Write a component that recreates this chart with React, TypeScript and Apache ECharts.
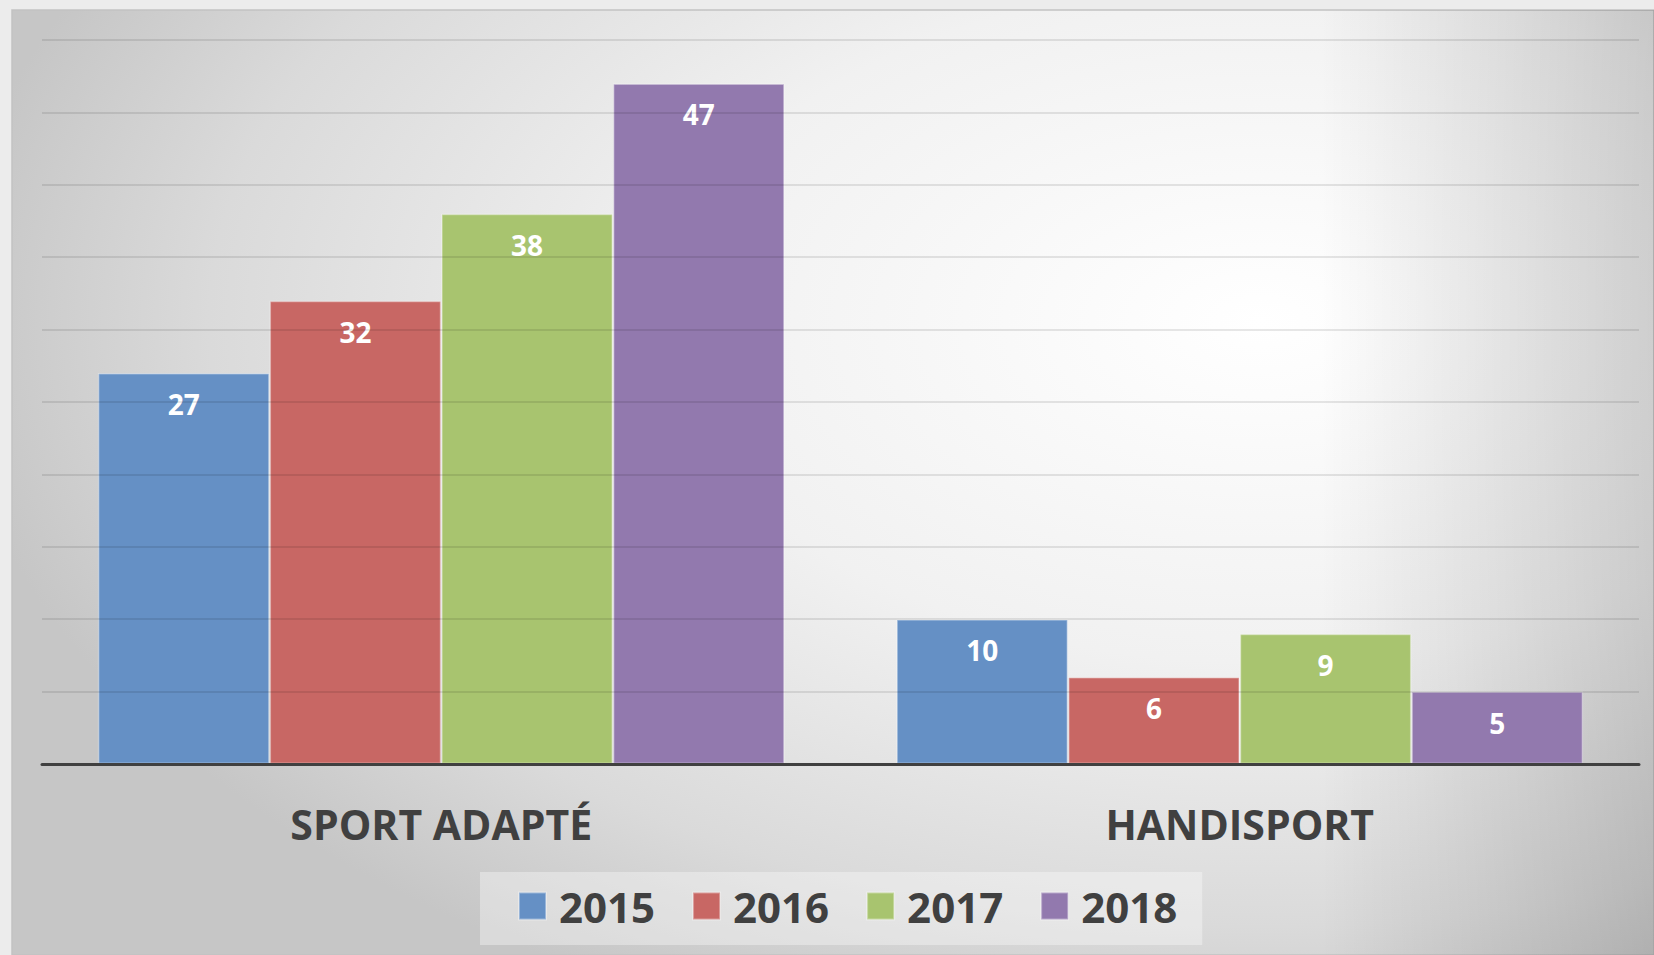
import React, { useEffect, useRef } from "react";
import * as echarts from "echarts";

const categories = ["SPORT ADAPTÉ", "HANDISPORT"];
const seriesNames = ["2015", "2016", "2017", "2018"];
const values2015 = [27, 10];
const values2016 = [32, 6];
const values2017 = [38, 9];
const values2018 = [47, 5];
const seriesValues = [values2015, values2016, values2017, values2018];
const seriesColors = ["#6590c5", "#c86764", "#a8c46f", "#9279ae"];

const FONT = "'Open Sans', 'DejaVu Sans', sans-serif";

export default function App() {
  const ref = useRef<HTMLDivElement>(null);

  useEffect(() => {
    if (!ref.current) return;
    const chart = echarts.init(ref.current, null, { renderer: "svg" });

    const series = seriesNames.map((name, i) => ({
      name,
      type: "bar",
      data: seriesValues[i],
      barGap: "0%",
      barCategoryGap: "14%",
      z: 2,
      itemStyle: {
        color: seriesColors[i],
        borderColor: "rgba(255,255,255,0.35)",
        borderWidth: 1.5,
      },
      label: {
        show: true,
        position: "insideTop",
        distance: 17,
        color: "#ffffff",
        fontFamily: FONT,
        fontWeight: "bold",
        fontSize: 28,
        lineHeight: 28,
      },
    }));

    chart.setOption({
      animation: false,
      backgroundColor: "#ececec",
      graphic: [
        {
          type: "rect",
          z: -10,
          silent: true,
          shape: { x: 12, y: 10, width: 1642, height: 945 },
          style: {
            fill: {
              type: "radial",
              x: 0.76,
              y: 0.33,
              r: 0.8,
              colorStops: [
                { offset: 0, color: "#ffffff" },
                { offset: 0.45, color: "#f1f1f1" },
                { offset: 0.8, color: "#dadada" },
                { offset: 1, color: "#c6c6c6" },
              ],
            },
            stroke: "#c2c2c2",
            lineWidth: 1.5,
          },
        },
        {
          type: "rect",
          z: -9,
          silent: true,
          shape: { x: 1320, y: 10, width: 334, height: 945 },
          style: {
            fill: {
              type: "linear",
              x: 0,
              y: 0,
              x2: 1,
              y2: 0,
              colorStops: [
                { offset: 0, color: "rgba(0,0,0,0)" },
                { offset: 1, color: "rgba(0,0,0,0.16)" },
              ],
            },
          },
        },
      ],
      legend: {
        data: seriesNames,
        left: 480,
        top: 872,
        padding: [13, 25, 18, 38],
        itemWidth: 27,
        itemHeight: 27,
        itemGap: 37,
        icon: "rect",
        backgroundColor: "rgba(255,255,255,0.35)",
        textStyle: {
          color: "#404040",
          fontFamily: FONT,
          fontWeight: "bold",
          fontSize: 42,
          lineHeight: 42,
          padding: [0, 0, 0, 8],
        },
      },
      grid: { left: 42, right: 15, top: 40, bottom: 191, containLabel: false },
      xAxis: {
        type: "category",
        data: categories,
        z: 4,
        axisLine: { show: true, lineStyle: { color: "#404040", width: 3 } },
        axisTick: { show: false },
        splitLine: { show: false },
        axisLabel: {
          color: "#404040",
          fontFamily: FONT,
          fontWeight: "bold",
          fontSize: 41,
          lineHeight: 41,
          margin: 39,
        },
      },
      yAxis: {
        type: "value",
        min: 0,
        max: 50,
        interval: 5,
        z: 3,
        axisLine: { show: false },
        axisTick: { show: false },
        axisLabel: { show: false },
        splitLine: { show: true, lineStyle: { color: "rgba(0,0,0,0.13)", width: 1.5 } },
      },
      series,
    });

    return () => chart.dispose();
  }, []);

  return (
    <div
      ref={ref}
      style={{ position: "fixed", left: 0, top: 0, width: 1654, height: 955 }}
    />
  );
}
